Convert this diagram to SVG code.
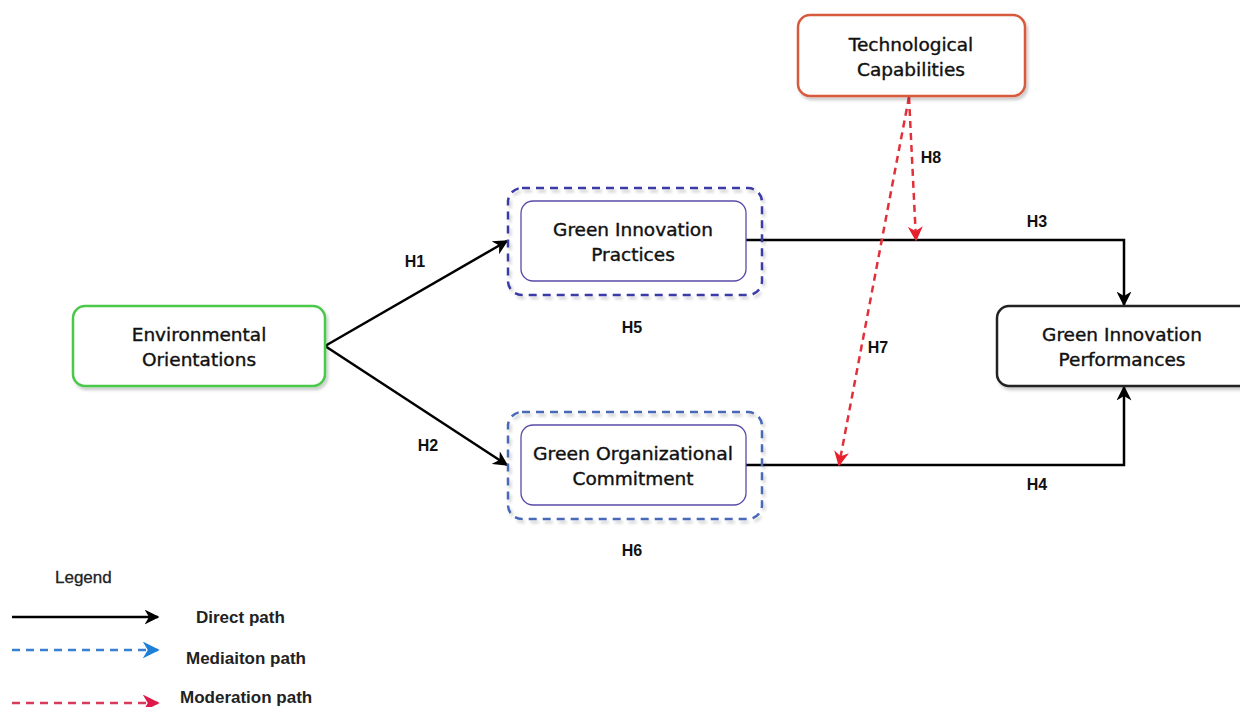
<svg xmlns="http://www.w3.org/2000/svg" width="1240" height="707" viewBox="0 0 1240 707">
<defs>
<filter id="sh" x="-10%" y="-10%" width="130%" height="140%">
<feDropShadow dx="2" dy="3" stdDeviation="1.5" flood-color="#000" flood-opacity="0.2"/>
</filter>
<marker id="ab2" viewBox="0 0 10 10" refX="9" refY="5" markerWidth="15" markerHeight="15" markerUnits="userSpaceOnUse" orient="auto"><path d="M0,0 L10,5 L0,10 L3,5 z" fill="#000"/></marker>
<marker id="ar" viewBox="0 0 10 10" refX="9" refY="5" markerWidth="15" markerHeight="15" markerUnits="userSpaceOnUse" orient="auto"><path d="M0,0 L10,5 L0,10 L3,5 z" fill="#e8202e"/></marker>
<marker id="abl" viewBox="0 0 10 10" refX="9" refY="5" markerWidth="17" markerHeight="17" markerUnits="userSpaceOnUse" orient="auto"><path d="M0,0 L10,5 L0,10 L3,5 z" fill="#1e7fd8"/></marker>
<marker id="arl" viewBox="0 0 10 10" refX="9" refY="5" markerWidth="17" markerHeight="17" markerUnits="userSpaceOnUse" orient="auto"><path d="M0,0 L10,5 L0,10 L3,5 z" fill="#e0184a"/></marker>
</defs>
<style>
.nt{font-family:"DejaVu Sans","Open Sans",sans-serif;font-size:18.5px;fill:#111;stroke:#111;stroke-width:0.4;text-anchor:middle}
.lb{font-family:"Liberation Sans",Arial,sans-serif;font-size:16px;font-weight:bold;fill:#111;text-anchor:middle}
.lg{font-family:"Liberation Sans",Arial,sans-serif;font-size:17px;font-weight:bold;fill:#222}
.box{fill:#fff;filter:url(#sh)}
.dir{fill:none;stroke:#000;stroke-width:2.5}
.mod{fill:none;stroke:#e2303a;stroke-width:2.5;stroke-dasharray:7,5}
</style>
<rect width="1240" height="707" fill="#fff"/>
<g id="connectors">
<path class="dir" d="M325,346 L507,241" marker-end="url(#ab2)"/>
<path class="dir" d="M325,346 L507,465" marker-end="url(#ab2)"/>
<path class="dir" d="M746,240 L1124,240 L1124,305" marker-end="url(#ab2)"/>
<path class="dir" d="M746,465 L1124,465 L1124,387" marker-end="url(#ab2)"/>
<path class="mod" d="M909,97 L916,240" marker-end="url(#ar)"/>
<path class="mod" d="M909,97 L839,465" marker-end="url(#ar)"/>
<text class="lb" x="415" y="267">H1</text>
<text class="lb" x="428" y="451">H2</text>
<text class="lb" x="1037" y="227">H3</text>
<text class="lb" x="1037" y="490">H4</text>
<text class="lb" x="632" y="333">H5</text>
<text class="lb" x="632" y="556">H6</text>
<text class="lb" x="878" y="353">H7</text>
<text class="lb" x="931" y="163">H8</text>
</g>
<g id="env">
<rect class="box" x="73" y="306" width="252" height="80" rx="12" stroke="#48c848" stroke-width="2.5"/>
<text class="nt" x="199" y="341">Environmental</text>
<text class="nt" x="199" y="366">Orientations</text>
</g>
<g id="gip">
<rect x="508" y="188" width="254" height="107" rx="14" fill="none" stroke="#3a3aa8" stroke-width="2.5" stroke-dasharray="8,6" filter="url(#sh)"/>
<rect x="521" y="201" width="225" height="80" rx="12" fill="#fff" stroke="#5a4aa8" stroke-width="1.3"/>
<text class="nt" x="633" y="236">Green Innovation</text>
<text class="nt" x="633" y="261">Practices</text>
</g>
<g id="goc">
<rect x="508" y="412" width="254" height="107" rx="14" fill="none" stroke="#4868b8" stroke-width="2.5" stroke-dasharray="8,6" filter="url(#sh)"/>
<rect x="521" y="425" width="225" height="80" rx="12" fill="#fff" stroke="#5a4aa8" stroke-width="1.3"/>
<text class="nt" x="633" y="460" textLength="200" lengthAdjust="spacingAndGlyphs">Green Organizational</text>
<text class="nt" x="633" y="485">Commitment</text>
</g>
<g id="tech">
<rect class="box" x="798" y="15" width="227" height="81" rx="12" stroke="#d85a3e" stroke-width="2.5"/>
<text class="nt" x="911" y="51">Technological</text>
<text class="nt" x="911" y="76">Capabilities</text>
</g>
<g id="gperf">
<rect class="box" x="997" y="306" width="260" height="80" rx="12" stroke="#222" stroke-width="2.5"/>
<text class="nt" x="1122" y="341">Green Innovation</text>
<text class="nt" x="1122" y="366">Performances</text>
</g>
<g id="legend">
<text class="lg" x="55" y="583" style="font-weight:normal;stroke:#222;stroke-width:0.3">Legend</text>
<path d="M12,617 L158,617" stroke="#000" stroke-width="2.5" marker-end="url(#ab2)"/>
<path d="M12,650 L158,650" stroke="#3a7fd0" stroke-width="2.5" stroke-dasharray="8,6" marker-end="url(#abl)"/>
<path d="M12,703 L158,703" stroke="#d83a5a" stroke-width="2.5" stroke-dasharray="8,6" marker-end="url(#arl)"/>
<text class="lg" x="196" y="623">Direct path</text>
<text class="lg" x="186" y="664">Mediaiton path</text>
<text class="lg" x="180" y="703">Moderation path</text>
</g>
</svg>
